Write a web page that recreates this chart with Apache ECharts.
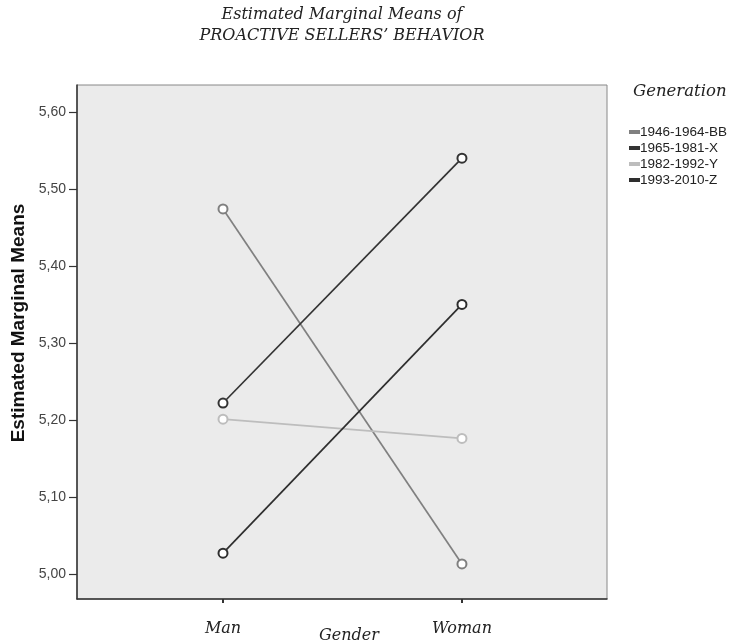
<!DOCTYPE html>
<html>
<head>
<meta charset="utf-8">
<script src="https://cdn.jsdelivr.net/npm/echarts@6/dist/echarts.min.js"></script>
<style>
  html, body { margin: 0; padding: 0; background: #fff; }
  #chart { width: 733px; height: 644px; }
</style>
</head>
<body>
<div id="chart"></div>
<script>
// 데이터
const genders = ['Man', 'Woman'];
const generations = ['1946-1964-BB', '1965-1981-X', '1982-1992-Y', '1993-2010-Z'];
const bbValues = [5.474, 5.013];
const xValues = [5.222, 5.540];
const yValues = [5.201, 5.176];
const zValues = [5.027, 5.350];
const yTicks = [5.0, 5.1, 5.2, 5.3, 5.4, 5.5, 5.6];
const lineColors = ['#808080', '#333333', '#bdbdbd', '#2e2e2e'];

const serif = '"DejaVu Serif", "Liberation Serif", serif';
const sans = '"Liberation Sans", Arial, sans-serif';

const chart = echarts.init(document.getElementById('chart'));

const valueSets = [bbValues, xValues, yValues, zValues];
const series = generations.map(function (name, i) {
  return {
    name: name,
    type: 'line',
    data: valueSets[i].map(function (v, j) { return [j, v]; }),
    symbol: 'emptyCircle',
    symbolSize: 9,
    lineStyle: { width: 1.7, color: lineColors[i] },
    itemStyle: { color: lineColors[i], borderColor: lineColors[i], borderWidth: 1.6 },
    emphasis: { disabled: true },
    z: 3
  };
});

const option = {
  animation: false,
  title: [
    {
      text: 'Estimated Marginal Means of\nPROACTIVE SELLERS\u2019 BEHAVIOR',
      left: 342,
      top: 4,
      padding: 0,
      textAlign: 'center',
      textStyle: {
        fontFamily: serif,
        fontStyle: 'italic',
        fontWeight: 'normal',
        fontSize: 16,
        lineHeight: 21,
        color: '#222'
      }
    },
    {
      text: 'Generation',
      left: 633,
      top: 83,
      padding: 0,
      textStyle: {
        fontFamily: serif,
        fontStyle: 'italic',
        fontWeight: 'normal',
        fontSize: 16.5,
        color: '#222'
      }
    }
  ],
  legend: {
    data: generations,
    orient: 'vertical',
    left: 629,
    top: 125,
    padding: 0,
    itemGap: 2,
    itemWidth: 9,
    itemHeight: 2,
    icon: 'rect',
    textStyle: { fontFamily: sans, fontSize: 13.5, color: '#222', padding: [0, 0, 0, -4] },
    selectedMode: false
  },
  grid: {
    left: 77,
    right: 126,
    top: 85,
    bottom: 45,
    outerBoundsMode: 'none',
    containLabel: false,
    show: true,
    backgroundColor: '#ebebeb',
    borderColor: '#888',
    borderWidth: 1
  },
  xAxis: {
    type: 'value',
    min: -0.611,
    max: 1.607,
    name: 'Gender',
    nameLocation: 'middle',
    nameGap: 29,
    nameMoveOverlap: false,
    nameTextStyle: {
      fontFamily: serif,
      fontStyle: 'italic',
      fontSize: 16,
      color: '#222',
      padding: [0, 0, 0, 14]
    },
    splitLine: { show: false },
    axisLine: { show: true, onZero: false, lineStyle: { color: '#333', width: 1.5 } },
    axisTick: { show: true, length: 4, customValues: [0, 1], lineStyle: { color: '#333', width: 2 } },
    axisLabel: {
      customValues: [0, 1],
      margin: 22,
      fontFamily: serif,
      fontStyle: 'italic',
      fontSize: 16,
      color: '#222',
      formatter: function (v) { return genders[Math.round(v)] || ''; }
    }
  },
  yAxis: {
    type: 'value',
    min: 4.9675,
    max: 5.635,
    name: 'Estimated Marginal Means',
    nameLocation: 'middle',
    nameRotate: 90,
    nameGap: 49,
    nameMoveOverlap: false,
    nameTextStyle: {
      fontFamily: sans,
      fontWeight: 'bold',
      fontSize: 19,
      color: '#111',
      padding: [0, 0, 0, 38]
    },
    splitLine: { show: false },
    axisLine: { show: true, onZero: false, lineStyle: { color: '#333', width: 1.5 } },
    axisTick: { show: true, length: 8, customValues: yTicks, lineStyle: { color: '#333', width: 1.2 } },
    axisLabel: {
      customValues: yTicks,
      margin: 11,
      fontFamily: sans,
      fontSize: 14,
      color: '#444',
      formatter: function (v) { return v.toFixed(2).replace('.', ','); }
    }
  },
  series: series
};

chart.setOption(option);
</script>
</body>
</html>
